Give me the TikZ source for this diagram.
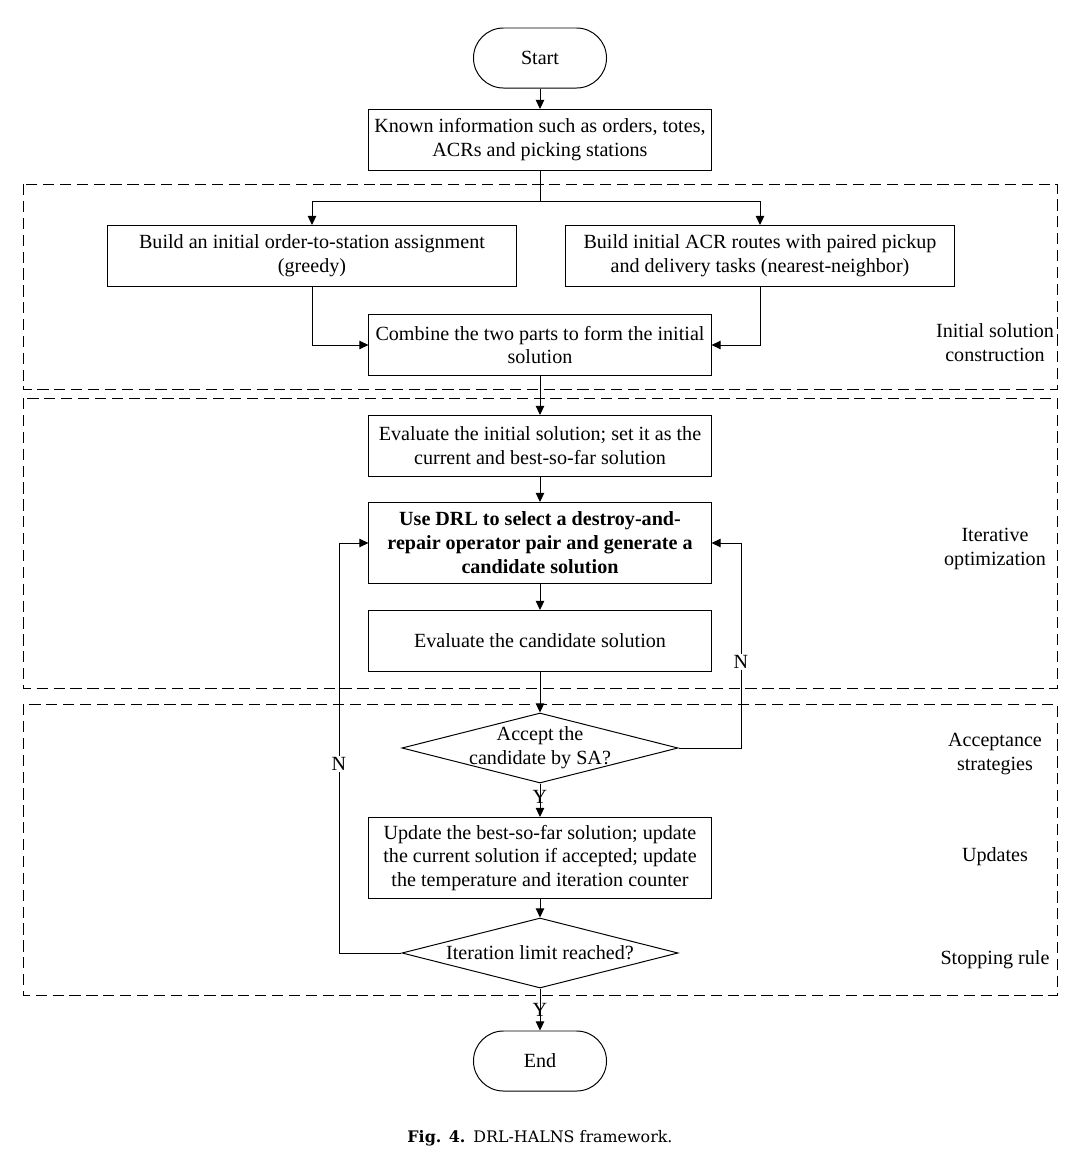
\documentclass[tikz,border=0pt]{standalone}
\usepackage{fontspec}
\setmainfont{Liberation Serif}
\newfontfamily\capfont{DejaVu Serif}
\usepackage{tikz}
\usetikzlibrary{shapes.geometric,arrows.meta}

\begin{document}
\begin{tikzpicture}[x=0.025cm,y=-0.025cm,->,>={Triangle[length=6.5pt,width=6pt]},
    line width=0.7pt,font=\fontsize{14.3pt}{17pt}\selectfont,
    proc/.style={draw,rectangle,align=center,minimum width=8.55cm,minimum height=1.525cm,inner sep=2pt},
    term/.style={draw,rectangle,rounded corners=0.75cm,minimum width=3.325cm,minimum height=1.5cm},
    decide/.style={draw,diamond,minimum width=6.9cm,minimum height=1.75cm,inner sep=0pt},
    stage/.style={draw,dashed,dash pattern=on 8pt off 4pt,line width=0.65pt},
    stagename/.style={align=center},
    yn/.style={draw=none,inner sep=1pt}]
  \useasboundingbox (0,0) rectangle (1080,1165);

  \draw[stage,-] (23,184) rectangle (1057,389);
  \draw[stage,-] (23,398) rectangle (1057,688);
  \draw[stage,-] (23,704) rectangle (1057,995);

  \node[term] (start) at (540,58) {Start};
  \node[proc] (known) at (540,140) {Known information such as orders, totes,\\ACRs and picking stations};
  \node[proc,minimum width=10.225cm] (assign) at (312,256) {Build an initial order-to-station assignment\\(greedy)};
  \node[proc,minimum width=9.725cm] (routes) at (760,256) {Build initial ACR routes with paired pickup\\and delivery tasks (nearest-neighbor)};
  \node[proc] (combine) at (540,345) {Combine the two parts to form the initial\\solution};
  \node[proc] (evalinit) at (540,446) {Evaluate the initial solution; set it as the\\current and best-so-far solution};
  \node[proc,minimum height=2.025cm,font=\fontsize{14.3pt}{17pt}\selectfont\bfseries] (drl) at (540,543) {Use DRL to select a destroy-and-\\repair operator pair and generate a\\candidate solution};
  \node[proc] (evalcand) at (540,641) {Evaluate the candidate solution};
  \node[decide,label={[align=center]center:Accept the\\candidate by SA?}] (accept) at (540,748) {};
  \node[proc,minimum height=2.025cm] (update) at (540,858) {Update the best-so-far solution; update\\the current solution if accepted; update\\the temperature and iteration counter};
  \node[decide,label={center:Iteration limit reached?}] (limit) at (540,953) {};
  \node[term] (end) at (540,1061) {End};

  \node[stagename] (s1) at (995,343) {Initial solution\\construction};
  \node[stagename] (s2) at (995,549) {Iterative\\optimization};
  \node[stagename] (s3) at (995,754) {Acceptance\\strategies};
  \node[stagename] (s4) at (995,857) {Updates};
  \node[stagename] (s5) at (995,960) {Stopping rule};

  \coordinate (split) at (540,201);
  \coordinate (nright) at (741,748);
  \coordinate (nleft) at (339,953);

  \draw (start) -- (known);
  \draw[-] (known) -- (split);
  \draw (split) -| (assign.north);
  \draw (split) -| (routes.north);
  \draw (assign.south) |- (combine.west);
  \draw (routes.south) |- (combine.east);
  \draw (combine) -- (evalinit);
  \draw (evalinit) -- (drl);
  \draw (drl) -- (evalcand);
  \draw (evalcand) -- (accept);
  \draw (accept.east) -- (nright) -- node[pos=0.42,yn,fill=white]{N} (nright |- drl.east) -- (drl.east);
  \draw (accept.south) -- node[pos=0.4,yn]{Y} (update.north);
  \draw (update) -- (limit);
  \draw (limit.west) -- (nleft) -- node[pos=0.46,yn,fill=white]{N} (nleft |- drl.west) -- (drl.west);
  \draw (limit.south) -- node[pos=0.5,yn]{Y} (end.north);

  \node[font=\capfont\fontsize{11.3pt}{13pt}\selectfont] (caption) at (540,1138) {\textbf{Fig. 4.}\enspace DRL-HALNS framework.};
\end{tikzpicture}
\end{document}
